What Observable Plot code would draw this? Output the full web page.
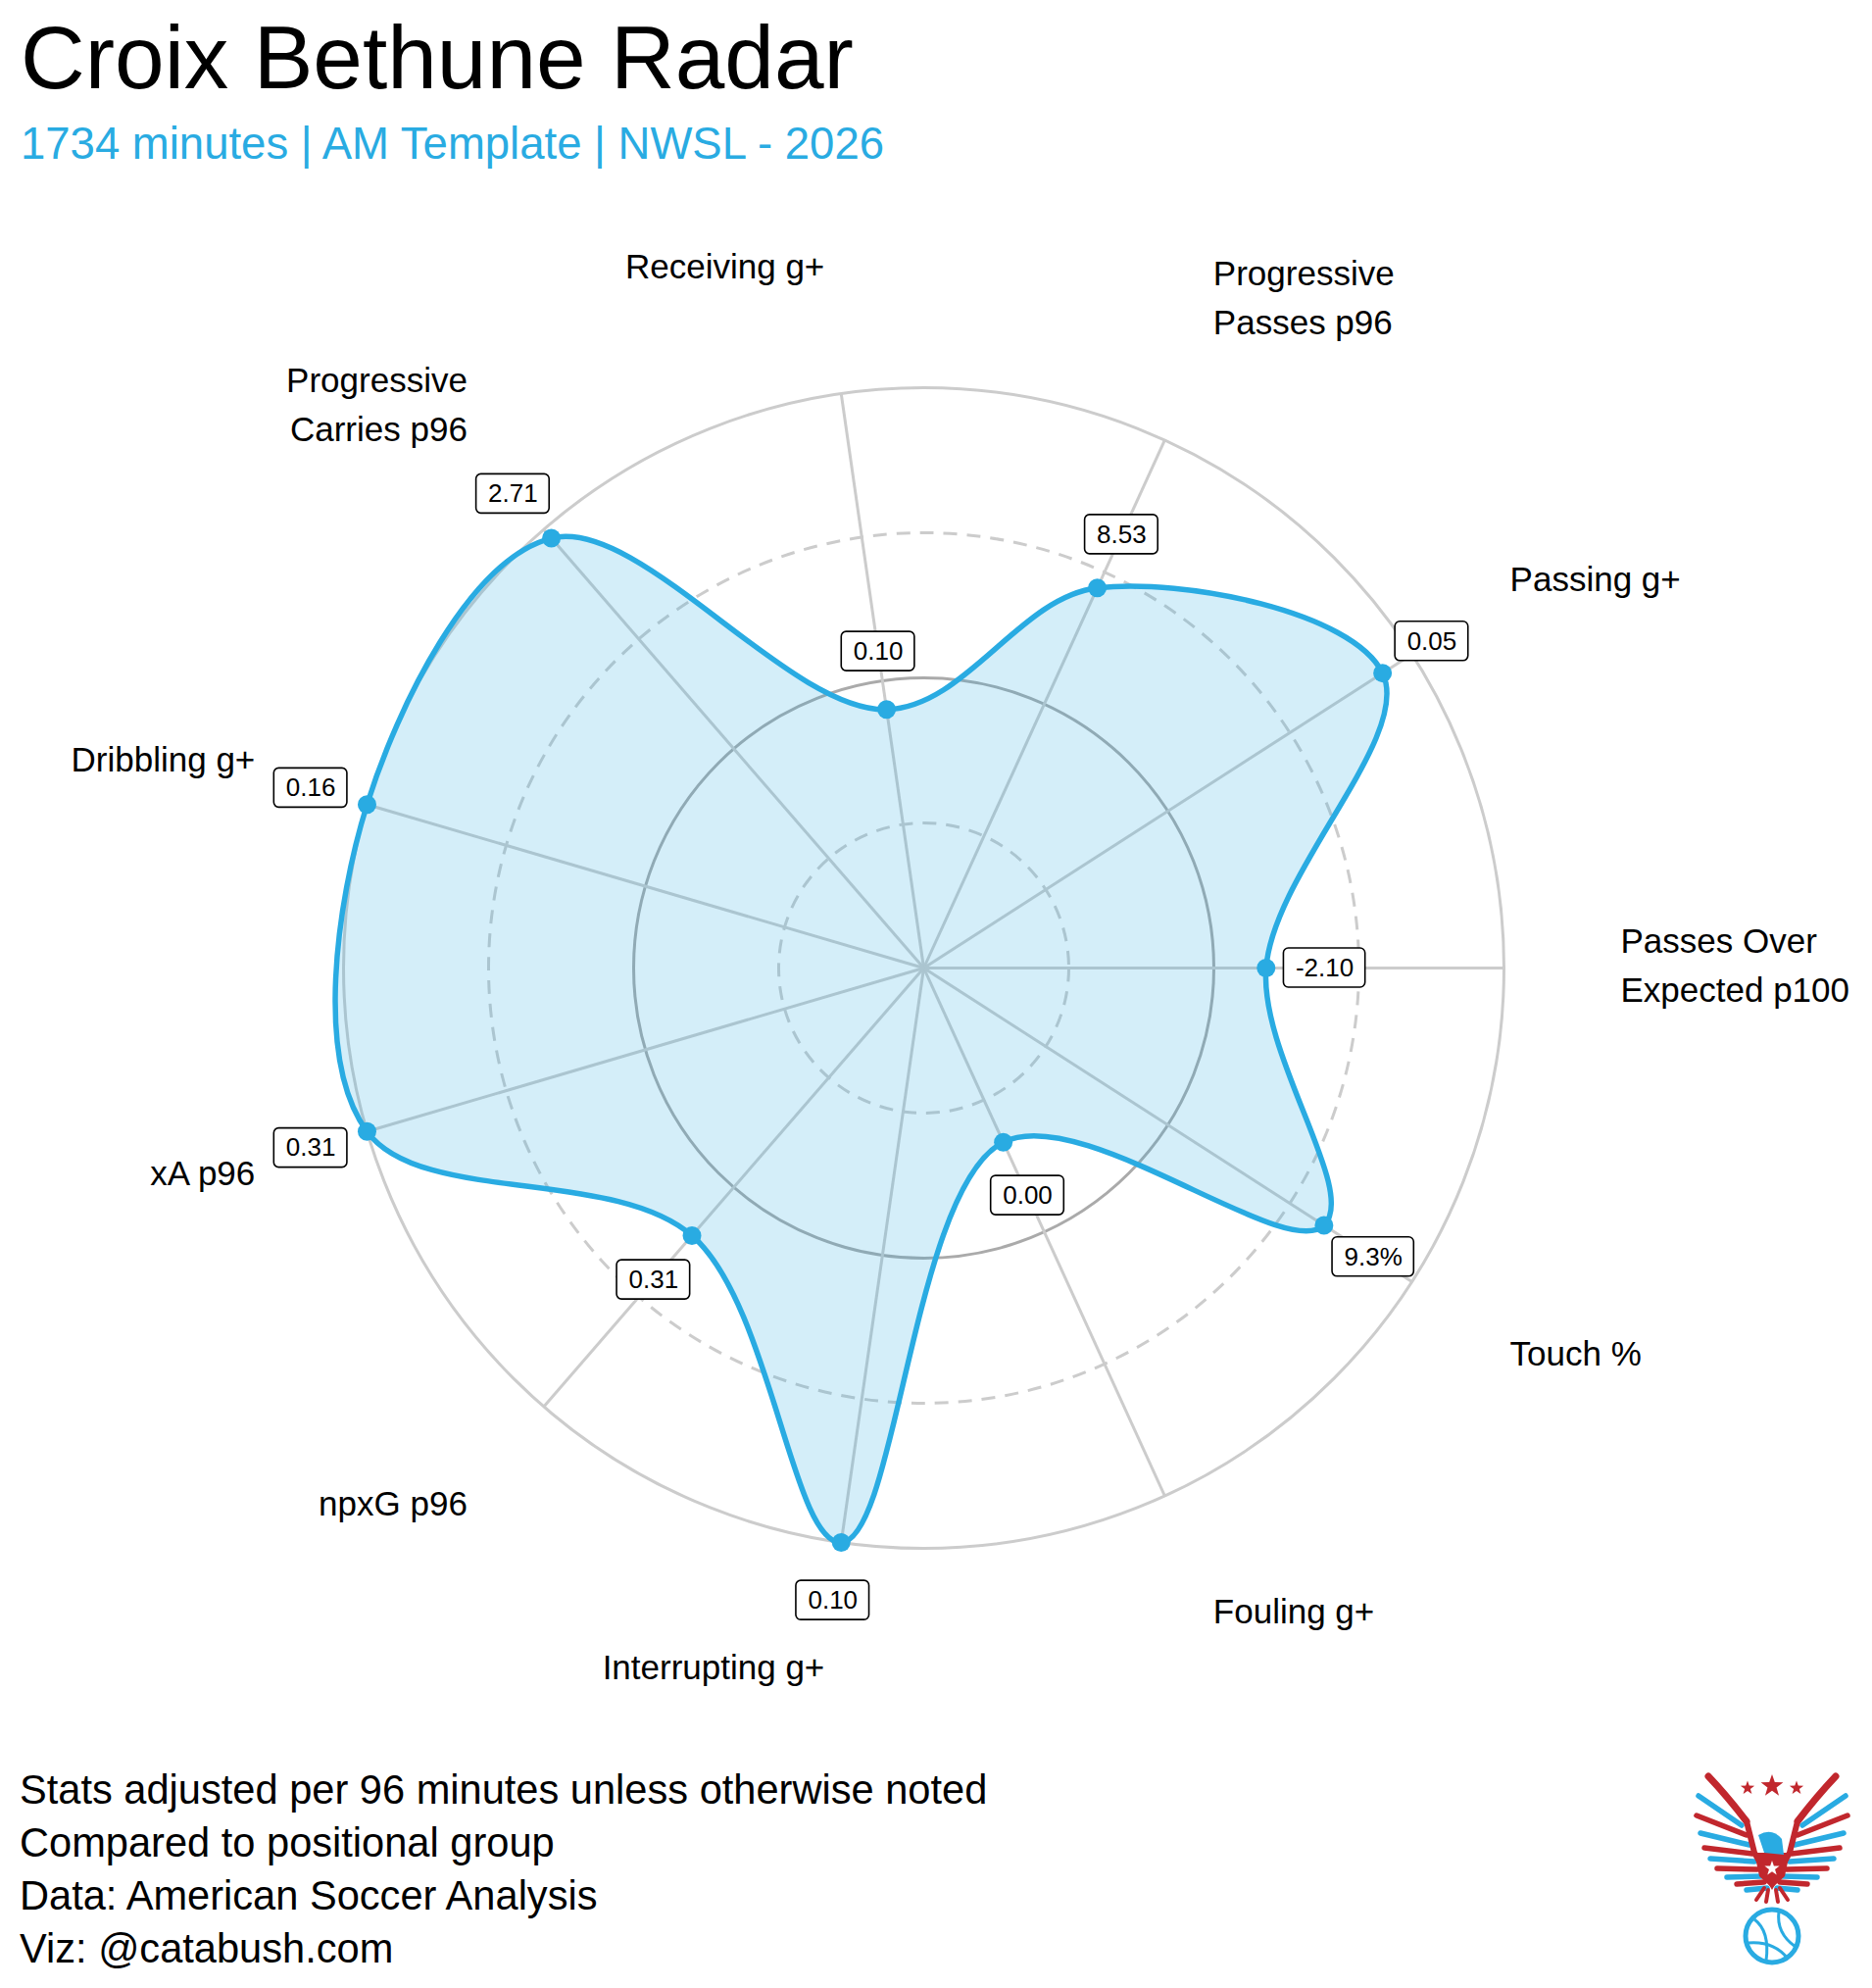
<!DOCTYPE html>
<html>
<head>
<meta charset="utf-8">
<script src="https://cdn.jsdelivr.net/npm/d3@7"></script>
<script src="https://cdn.jsdelivr.net/npm/@observablehq/plot@0.6"></script>
<style>
  html, body { margin: 0; padding: 0; background: #fff; }
  body { width: 1910px; height: 2028px; position: relative; overflow: hidden;
         font-family: "Liberation Sans", Arial, Helvetica, sans-serif; }
  #title { position: absolute; left: 21px; top: 13px; font-size: 91px; line-height: 1; color: #000; white-space: nowrap; }
  #subtitle { position: absolute; left: 21px; top: 124px; font-size: 45.5px; line-height: 1; color: #29abe2; white-space: nowrap; }
  #chart { position: absolute; left: 0; top: 200px; }
  #caption { position: absolute; left: 20px; top: 1799px; font-size: 41.6px; line-height: 54px; color: #000; white-space: nowrap; }
  #logo { position: absolute; left: 1720px; top: 1800px; }
</style>
</head>
<body>
<div id="title">Croix Bethune Radar</div>
<div id="subtitle">1734 minutes | AM Template | NWSL - 2026</div>
<div id="chart"></div>
<div id="caption">Stats adjusted per 96 minutes unless otherwise noted<br>Compared to positional group<br>Data: American Soccer Analysis<br>Viz: @catabush.com</div>
<svg id="logo" width="190" height="228" viewBox="0 0 190 228">
  <defs>
    <path id="star" d="M0,-10 L2.35,-3.24 L9.51,-3.09 L3.8,1.24 L5.88,8.09 L0,4 L-5.88,8.09 L-3.8,1.24 L-9.51,-3.09 L-2.35,-3.24 Z"/>
    <g id="wing">
      <path d="M62,58 Q42,32 23,12" fill="none" stroke="#c1272d" stroke-width="7" stroke-linecap="round"/>
      <g stroke-width="5.5" stroke-linecap="round">
        <line x1="57" y1="62" x2="13" y2="32" stroke="#29abe2"/>
        <line x1="62" y1="72" x2="11" y2="52" stroke="#c1272d"/>
        <line x1="65" y1="82" x2="15" y2="70" stroke="#29abe2"/>
        <line x1="68" y1="91" x2="19" y2="85" stroke="#c1272d"/>
        <line x1="70" y1="99" x2="25" y2="96" stroke="#29abe2"/>
        <line x1="73" y1="107" x2="32" y2="106" stroke="#c1272d"/>
        <line x1="77" y1="114" x2="42" y2="115" stroke="#29abe2"/>
        <line x1="80" y1="120" x2="52" y2="122" stroke="#c1272d"/>
        <line x1="83" y1="126" x2="62" y2="128" stroke="#29abe2"/>
      </g>
    </g>
  </defs>
  <g fill="#c1272d">
    <use href="#star" transform="translate(63,24) scale(0.75)"/>
    <use href="#star" transform="translate(88,22) scale(1.2)"/>
    <use href="#star" transform="translate(113,24) scale(0.75)"/>
  </g>
  <use href="#wing"/>
  <use href="#wing" transform="translate(176,0) scale(-1,1)"/>
  <path d="M62,58 L70,90 L88,122 L106,90 L114,58" fill="none" stroke="#c1272d" stroke-width="6"/>
  <path d="M70,90 L106,90 L101,114 L88,126 L75,114 Z" fill="#c1272d"/>
  <path d="M74,72 Q88,64 98,76 L100,92 L80,90 Z" fill="#29abe2"/>
  <use href="#star" transform="translate(88,106) scale(0.8)" fill="#fff"/>
  <g stroke="#c1272d" stroke-width="4" stroke-linecap="round">
    <line x1="80" y1="126" x2="72" y2="138"/>
    <line x1="96" y1="126" x2="104" y2="138"/>
    <line x1="84" y1="128" x2="82" y2="140"/>
    <line x1="92" y1="128" x2="94" y2="140"/>
  </g>
  <circle cx="88" cy="175" r="27" fill="#fff" stroke="#29abe2" stroke-width="5"/>
  <g fill="none" stroke="#29abe2" stroke-width="3">
    <path d="M70,158 Q86,170 82,200"/>
    <path d="M95,150 Q92,172 112,186"/>
    <path d="M64,182 Q90,180 104,198"/>
  </g>
</svg>
<script>
// ---- data ----
const metrics = [
  "Receiving g+",
  "Progressive\nPasses p96",
  "Passing g+",
  "Passes Over\nExpected p100",
  "Touch %",
  "Fouling g+",
  "Interrupting g+",
  "npxG p96",
  "xA p96",
  "Dribbling g+",
  "Progressive\nCarries p96"
];
const percentiles = [45, 72, 94, 59, 82, 33, 100, 61, 100, 100, 98];
const statLabels = ["0.10", "8.53", "0.05", "-2.10", "9.3%", "0.00", "0.10", "0.31", "0.31", "0.16", "2.71"];
const gridLevels = [25, 50, 75, 100];

// ---- layout ----
const W = 1910, H = 1580;
const CX = 942, CY = 787;     // centre of radar inside the svg
const R = 592;                // px radius for 100
const LABEL_R = 120.1;        // axis label anchor radius (data units)
const OFF = 10.1;             // stat box offset beyond the point (data units)
const blue = "#29abe2";
const font = '"Liberation Sans", Arial, Helvetica, sans-serif';

const n = metrics.length;
const step = 360 / n;
const rows = metrics.map((m, i) => {
  const a = (i * step - step / 4) * Math.PI / 180;
  return {metric: m, pct: percentiles[i], stat: statLabels[i], s: Math.sin(a), c: Math.cos(a)};
});

const ctx = document.createElement("canvas").getContext("2d");
ctx.font = `26px ${font}`;
const bw = d => (ctx.measureText(d.stat).width + 24) / R * 100;
const bh = 40 / R * 100;
const bx = d => (d.pct + OFF) * d.s;
const by = d => (d.pct + OFF) * d.c;

const side = d => Math.abs(d.s) < 1e-6 ? "middle" : d.s > 0 ? "start" : "end";
const vert = d => Math.abs(d.c) < 1e-6 ? "middle" : d.c > 0 ? "bottom" : "top";
const nudge = {top: -14, middle: -7, bottom: 0};
const groups = d3.groups(rows, d => side(d) + "|" + vert(d));

const circleMarks = gridLevels.map(l => Plot.dot([l], {
  x: () => 0, y: () => 0, r: R * l / 100, fill: "none",
  stroke: l === 50 ? "#aaaaaa" : "#cccccc",
  strokeWidth: 3,
  strokeDasharray: (l === 25 || l === 75) ? "14,10" : null
}));

const chart = Plot.plot({
  width: W, height: H, margin: 0,
  x: {domain: [-CX / R * 100, (W - CX) / R * 100], axis: null},
  y: {domain: [-(H - CY) / R * 100, CY / R * 100], axis: null},
  style: {fontFamily: font, background: "transparent", overflow: "visible"},
  marks: [
    ...circleMarks,
    Plot.link(rows, {x1: () => 0, y1: () => 0, x2: d => 100 * d.s, y2: d => 100 * d.c,
      stroke: "#cccccc", strokeWidth: 3}),
    Plot.line(rows, {x: d => d.pct * d.s, y: d => d.pct * d.c, curve: "catmull-rom-closed",
      fill: blue, fillOpacity: 0.2, stroke: "none"}),
    Plot.line(rows, {x: d => d.pct * d.s, y: d => d.pct * d.c, curve: "catmull-rom-closed",
      stroke: blue, strokeWidth: 5.5, strokeLinejoin: "round"}),
    Plot.dot(rows, {x: d => d.pct * d.s, y: d => d.pct * d.c, r: 9.5, fill: blue}),
    Plot.rect(rows, {
      x1: d => bx(d) - bw(d) / 2, x2: d => bx(d) + bw(d) / 2,
      y1: d => by(d) - bh / 2, y2: d => by(d) + bh / 2,
      fill: "white", stroke: "black", strokeWidth: 1.6, rx: 5, ry: 5
    }),
    Plot.text(rows, {x: bx, y: by, text: "stat", fontSize: 26, fill: "black"}),
    ...groups.map(([k, ds]) => {
      const [ta, la] = k.split("|");
      return Plot.text(ds, {x: d => LABEL_R * d.s, y: d => LABEL_R * d.c, text: "metric",
        textAnchor: ta, lineAnchor: la, dy: nudge[la], fontSize: 35, lineHeight: 1.43, fill: "black"});
    })
  ]
});
document.getElementById("chart").appendChild(chart);
</script>
</body>
</html>
